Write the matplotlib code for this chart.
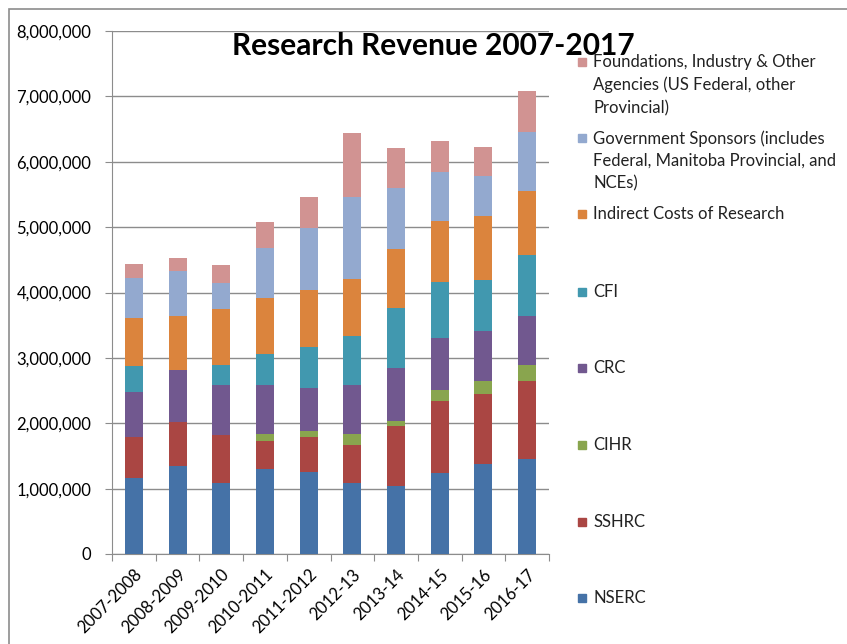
import matplotlib.pyplot as plt
import numpy as np
from matplotlib.patches import Rectangle
from matplotlib.ticker import FuncFormatter, MultipleLocator

plt.rcParams['font.family'] = ['Lato', 'DejaVu Sans']

# Fiscal years
years = ['2007-2008', '2008-2009', '2009-2010', '2010-2011', '2011-2012',
         '2012-13', '2013-14', '2014-15', '2015-16', '2016-17']

# Revenue by source (dollars), bottom of the stack first
nserc = [1167000, 1346000, 1081000, 1305000, 1259000, 1091000, 1045000, 1234000, 1377000, 1453000]
sshrc = [618000, 668000, 744000, 423000, 536000, 576000, 913000, 1111000, 1066000, 1198000]
cihr = [0, 0, 0, 100000, 86000, 173000, 82000, 164000, 208000, 240000]
crc = [693000, 800000, 760000, 755000, 653000, 745000, 800000, 800000, 765000, 754000]
cfi = [402000, 0, 306000, 469000, 637000, 750000, 923000, 857000, 775000, 929000]
indirect = [730000, 826000, 852000, 867000, 872000, 867000, 902000, 928000, 975000, 979000]
gov = [617000, 684000, 402000, 764000, 948000, 1264000, 938000, 754000, 611000, 907000]
foundations = [213000, 199000, 280000, 398000, 465000, 974000, 612000, 474000, 453000, 622000]

series = [
    ('NSERC', nserc, '#4572A7'),
    ('SSHRC', sshrc, '#AA4643'),
    ('CIHR', cihr, '#89A54E'),
    ('CRC', crc, '#71588F'),
    ('CFI', cfi, '#4198AF'),
    ('Indirect Costs of Research', indirect, '#DB843D'),
    ('Government Sponsors (includes\nFederal, Manitoba Provincial, and\nNCEs)', gov, '#93A9CF'),
    ('Foundations, Industry & Other\nAgencies (US Federal, other\nProvincial)', foundations, '#D19392'),
]

W, H = 847, 644
fig = plt.figure(figsize=(W / 100, H / 100), dpi=100)
ax = fig.add_axes([112 / W, 1 - 554 / H, (549 - 112) / W, (554 - 31) / H])

x = np.arange(len(years))
bottom = np.zeros(len(years))
for name, vals, color in series:
    ax.bar(x, vals, width=0.41, bottom=bottom, color=color, zorder=3)
    bottom += np.array(vals)

ax.set_xlim(-0.5, len(years) - 0.5)
ax.set_ylim(0, 8000000)
ax.yaxis.set_major_locator(MultipleLocator(1000000))
ax.yaxis.set_major_formatter(FuncFormatter(lambda v, p: f'{int(v):,}'))
ax.grid(axis='y', color='#8c8c8c', linewidth=1.0, zorder=0)

# category ticks between bars, labels at centers
ax.set_xticks(np.arange(-0.5, len(years), 1.0))
ax.set_xticklabels([])
ax.set_xticks(x, minor=True)
ax.set_xticklabels(years, minor=True, rotation=45, ha='right',
                   rotation_mode='anchor', fontsize=12, color='#000000')
ax.tick_params(axis='x', which='minor', length=0, pad=9)
ax.tick_params(axis='x', which='major', length=5, color='#8c8c8c')
ax.tick_params(axis='y', length=5, color='#8c8c8c', labelsize=12, pad=10)

for s in ['top', 'right']:
    ax.spines[s].set_visible(False)
for s in ['left', 'bottom']:
    ax.spines[s].set_color('#8c8c8c')

fig.text(433 / W, 1 - 46 / H, 'Research Revenue 2007-2017', ha='center', va='center',
         fontsize=21.5, fontweight='bold')

# legend, top entry first
legend_y = [62, 138, 214, 292, 368, 445, 522, 598]
for (name, vals, color), yy in zip(reversed(series), legend_y):
    fig.add_artist(Rectangle((578 / W, 1 - (yy + 4) / H), 8 / W, 8 / H,
                             color=color, transform=fig.transFigure))
    fig.text(593 / W, 1 - (yy - 8) / H, name, ha='left', va='top',
             fontsize=12, linespacing=1.5, color='#222222')

# outer chart border
fig.add_artist(Rectangle((9 / W, -0.1), 1.2, 1 - 9 / H + 0.1, fill=False,
                         edgecolor='#8c8c8c', linewidth=1.2, transform=fig.transFigure))

fig.savefig('out.png', dpi=100)
